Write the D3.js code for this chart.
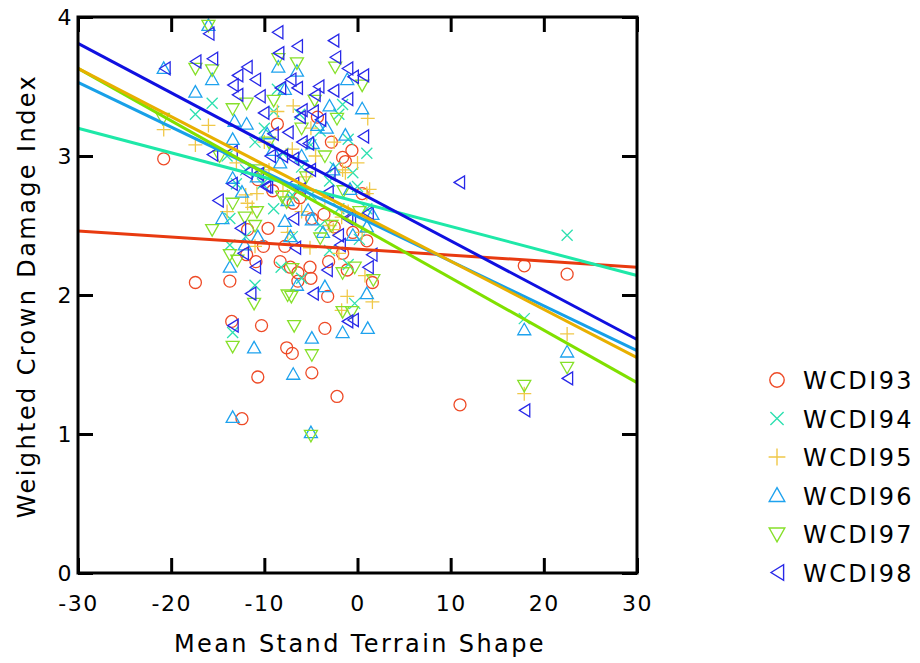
<!DOCTYPE html>
<html><head><meta charset="utf-8">
<script src="https://cdn.jsdelivr.net/npm/d3@7"></script>
<style>
html,body{margin:0;padding:0;background:#fff;}
svg{display:block;font-family:"DejaVu Sans",Verdana,sans-serif;}
</style></head>
<body>
<svg id="chart" width="920" height="663"></svg>
<script>
// ---------- data ----------
const seriesNames = ["WCDI93","WCDI94","WCDI95","WCDI96","WCDI97","WCDI98"];
const xTicks = [-30,-20,-10,0,10,20,30];
const yTicks = [0,1,2,3,4];

const wcdi93 = [[-20.8,2.98],[-17.4,2.09],[-13.7,2.10],[-13.5,1.81],[-10.3,1.78],[-12.4,1.11],[-10.7,1.41],[-7.6,1.62],[-7.0,1.58],[-4.9,1.44],[-2.2,1.27],[-3.5,1.76],[11.0,1.21],[17.9,2.21],[22.5,2.15],[1.6,2.09],[-8.6,3.23],[-4.3,3.28],[-2.8,3.10],[-0.6,3.04],[-1.6,2.99],[-1.3,2.96],[0.5,2.73],[-9.6,2.48],[-11.8,2.47],[-10.1,2.35],[-11.9,2.29],[-10.9,2.24],[-8.3,2.24],[-7.2,2.20],[-6.4,2.16],[-5.1,2.20],[-5.0,2.12],[-6.4,2.10],[-3.1,2.24],[-1.6,2.30],[-3.2,1.99],[-1.1,2.18],[1.0,2.39],[-7.8,2.35],[-2.5,2.49],[-0.5,2.45],[-3.6,2.58],[-6.9,2.66],[-9.1,2.75],[-4.9,2.55],[-10.7,2.83],[-6.2,2.70]];
const wcdi94 = [[-15.6,3.38],[-17.4,3.30],[-8.6,3.48],[1.0,3.02],[-0.5,2.88],[-13.7,2.55],[-13.7,2.36],[-11.0,2.07],[-13.4,1.73],[-0.3,1.94],[17.9,1.83],[22.5,2.43],[-1.6,3.37],[-12.0,2.90],[-10.2,2.80],[-8.0,3.02],[-6.0,2.92],[-5.0,2.72],[-4.0,3.18],[-3.0,2.82],[-2.0,2.62],[-1.0,3.12],[0.2,2.40],[-9.0,2.62],[-7.0,2.42],[-11.0,3.10],[-6.2,3.30],[-3.0,2.32],[-14.0,3.00],[-8.2,2.20],[-5.0,3.08],[1.0,2.62],[-2.0,3.30],[-4.0,2.50],[-13.0,2.80],[-10.0,3.20],[-7.0,2.72],[-1.0,2.22],[0.0,2.78],[-6.0,2.12],[-9.0,3.32],[-2.4,2.92],[-12.0,2.42]];
const wcdi95 = [[-20.8,3.19],[-17.4,3.08],[-16.0,3.22],[-8.6,3.32],[-6.9,3.36],[1.1,3.27],[-1.3,2.88],[1.3,2.76],[-10.8,2.73],[-11.8,2.66],[-1.6,2.90],[1.0,2.73],[-5.1,2.34],[-1.1,1.99],[1.6,1.95],[-1.7,1.89],[0.8,2.14],[17.9,1.29],[22.5,1.72],[-11.3,2.63],[-1.7,2.56],[-2.6,2.47],[-13.0,2.95],[-12.0,2.72],[-9.5,2.90],[-8.0,2.75],[-7.0,3.05],[-6.0,2.60],[-4.5,3.00],[-3.5,2.70],[-2.5,3.10],[-1.0,2.60],[0.0,2.95],[-10.0,3.10],[-5.5,2.85],[-3.0,2.50],[-14.0,2.60],[-7.5,2.45],[-2.0,2.30],[0.5,2.45],[-11.0,2.35],[-5.0,3.20]];
const wcdi96 = [[-20.8,3.63],[-16.0,3.94],[-15.6,3.55],[-17.4,3.46],[-8.5,3.64],[-6.5,3.61],[-1.1,3.55],[0.5,3.34],[-13.4,3.12],[-13.2,3.25],[-11.9,3.23],[-4.3,3.22],[-3.3,3.20],[-1.3,3.15],[-9.7,3.16],[-13.4,2.84],[-12.4,2.74],[-10.8,2.85],[-9.1,3.04],[-4.8,3.09],[-0.8,2.76],[1.0,2.49],[-7.2,2.42],[-3.7,2.45],[-10.7,2.42],[-12.1,2.36],[-7.8,2.53],[-7.5,2.68],[-5.3,2.61],[-4.9,2.54],[-0.5,2.43],[1.6,2.58],[1.0,2.01],[-3.5,2.06],[-6.5,2.07],[-13.7,2.20],[-1.6,1.73],[1.1,1.76],[-4.9,1.69],[-11.1,1.62],[-6.9,1.43],[-13.4,1.12],[-5.0,1.01],[17.9,1.75],[22.5,1.59],[-8.3,2.95],[-6.0,3.00],[-2.6,2.90],[-14.5,2.55],[-3.0,3.36],[-7.8,3.48]];
const wcdi97 = [[-16.0,3.94],[-17.4,3.63],[-20.9,3.27],[-8.5,3.70],[-6.5,3.67],[-2.4,3.64],[0.5,3.51],[-13.4,3.34],[-11.9,3.38],[-4.6,3.40],[-2.2,3.27],[-13.4,2.66],[-12.1,2.56],[-8.1,2.71],[-15.6,2.47],[-12.9,2.25],[-7.6,2.67],[-7.0,2.19],[-4.0,2.41],[-1.6,2.16],[-0.3,2.20],[1.7,2.11],[-7.5,2.00],[-13.7,2.29],[-11.1,1.94],[-7.1,1.99],[-1.6,1.88],[-0.6,1.88],[-6.8,1.78],[-13.4,1.63],[-4.9,1.57],[-5.0,0.99],[17.9,1.35],[22.5,1.48],[-10.5,2.90],[-9.5,3.10],[-5.5,2.85],[-3.5,3.00],[-1.5,2.75],[0.2,2.60],[-11.0,2.50],[-6.0,3.20],[-14.8,3.00],[-2.8,2.50],[-9.0,3.40],[-10.8,2.60],[-15.6,3.62]];
const wcdi98 = [[-16.0,3.88],[-20.7,3.63],[-17.4,3.68],[-15.6,3.70],[-8.6,3.89],[-6.5,3.79],[-2.6,3.83],[-8.5,3.74],[-2.4,3.71],[-11.9,3.64],[-12.9,3.58],[-13.4,3.51],[-11.0,3.55],[-10.5,3.43],[-12.9,3.44],[-8.3,3.49],[-6.5,3.49],[-7.2,3.55],[-4.2,3.50],[-4.6,3.44],[-2.6,3.47],[-1.1,3.63],[-0.5,3.57],[0.6,3.58],[-1.1,3.41],[-6.0,3.33],[-6.2,3.28],[-10.1,3.31],[-9.1,3.16],[-7.5,3.17],[-4.8,3.32],[-4.0,3.26],[0.6,3.14],[-15.6,3.01],[-13.5,3.03],[-11.9,2.88],[-10.7,2.87],[-9.4,3.00],[-8.1,3.00],[-6.9,2.98],[-6.0,3.10],[-5.3,3.09],[-3.0,2.87],[-15.0,2.68],[-13.5,2.80],[-9.7,2.78],[-6.9,2.80],[-6.2,2.76],[-5.1,2.90],[-1.1,2.55],[1.1,2.59],[-12.6,2.48],[-6.9,2.55],[-12.3,2.30],[-11.0,2.20],[-6.7,2.34],[-3.3,2.18],[-2.1,2.43],[-1.9,2.36],[-0.8,2.55],[1.1,2.20],[1.5,2.29],[-4.8,2.01],[-11.5,2.01],[-9.9,2.78],[-3.2,2.74],[-13.4,1.78],[-1.1,1.81],[-0.5,1.82],[10.9,2.81],[17.9,1.17],[22.5,1.40]];

// fitted lines: value at x=-30 and at x=30
const fitStart = [2.46, 3.20, 3.63, 3.53, 3.63, 3.81];
const fitEnd   = [2.20, 2.14, 1.55, 1.60, 1.37, 1.68];

// ---------- styling ----------
const markerColors = ["#ee4a26","#2ee0b0","#f0c848","#1ea2ee","#86e02a","#2828e8"];
const lineColors   = ["#e83a10","#1ee8a8","#e8b000","#18a0e8","#80e000","#1010e0"];
const shapes = ["circle","cross","plus","up","down","left"];
const allPoints = [wcdi93,wcdi94,wcdi95,wcdi96,wcdi97,wcdi98];

const svg = d3.select("#chart");
const x = d3.scaleLinear().domain([-30,30]).range([78,637]);
const y = d3.scaleLinear().domain([0,4]).range([573,17]);

function shapePath(s, k){
  k = k || 1;
  switch(s){
    case "circle": { const r=6*k; return `M${r},0A${r},${r} 0 1,1 ${-r},0A${r},${r} 0 1,1 ${r},0Z`; }
    case "cross": { const a=5.5*k; return `M${-a},${-a}L${a},${a}M${-a},${a}L${a},${-a}`; }
    case "plus": { const a=7*k; return `M${-a},0L${a},0M0,${-a}L0,${a}`; }
    case "up": { const w=6.5*k, t=6.5*k, b=5*k; return `M0,${-t}L${w},${b}L${-w},${b}Z`; }
    case "down": { const w=6.5*k, t=6.5*k, b=5*k; return `M0,${t}L${w},${-b}L${-w},${-b}Z`; }
    case "left": { const h=6.5*k, l=5*k, r=5.5*k; return `M${-l},0L${r},${-h}L${r},${h}Z`; }
  }
}

// points
allPoints.forEach((pts,i)=>{
  svg.append("g").selectAll("path").data(pts).join("path")
    .attr("transform", d=>`translate(${x(d[0])},${y(d[1])})`)
    .attr("d", shapePath(shapes[i]))
    .attr("fill","none")
    .attr("stroke", markerColors[i])
    .attr("stroke-width",1.3);
});

// fitted lines
const lineOrder = [0,1,3,4,2,5];
lineOrder.forEach(i=>{
  svg.append("line")
    .attr("x1", x(-30)).attr("y1", y(fitStart[i]))
    .attr("x2", x(30)).attr("y2", y(fitEnd[i]))
    .attr("stroke", lineColors[i]).attr("stroke-width",3);
});

// axes
const fmt = d => String(d);
const tickFont = g => g.selectAll("text")
  .style("font-family",'"DejaVu Sans",sans-serif')
  .style("font-size","22px").style("letter-spacing","1.5px").attr("fill","#000");
const styleAxis = g => { g.select(".domain").remove(); g.selectAll("line").attr("stroke","#000").attr("stroke-width",3); };

svg.append("g").attr("transform","translate(0,573)")
  .call(d3.axisBottom(x).tickValues(xTicks).tickFormat(fmt).tickSizeInner(-15).tickSizeOuter(0).tickPadding(22))
  .call(styleAxis).call(tickFont);
svg.append("g").attr("transform","translate(0,17)")
  .call(d3.axisTop(x).tickValues(xTicks).tickFormat("").tickSizeInner(-15).tickSizeOuter(0))
  .call(styleAxis);
svg.append("g").attr("transform","translate(78,0)")
  .call(d3.axisLeft(y).tickValues(yTicks).tickFormat(fmt).tickSizeInner(-15).tickSizeOuter(0).tickPadding(5))
  .call(styleAxis).call(tickFont);
svg.append("g").attr("transform","translate(637,0)")
  .call(d3.axisRight(y).tickValues(yTicks).tickFormat("").tickSizeInner(-15).tickSizeOuter(0))
  .call(styleAxis);

// frame
svg.append("rect").attr("x",78).attr("y",17).attr("width",559).attr("height",556)
  .attr("fill","none").attr("stroke","#000").attr("stroke-width",3);

// axis titles
svg.append("text").attr("x",360).attr("y",652).attr("text-anchor","middle")
  .style("font-size","24px").style("letter-spacing","2.4px").text("Mean Stand Terrain Shape");
svg.append("text").attr("transform","translate(35,296) rotate(-90)").attr("text-anchor","middle")
  .style("font-size","24px").style("letter-spacing","2.4px").text("Weighted Crown Damage Index");

// legend
const legendY = [380,418.5,457,495.5,534,572.5];
seriesNames.forEach((name,i)=>{
  const g = svg.append("g").attr("transform",`translate(777,${legendY[i]})`);
  g.append("path").attr("d",shapePath(shapes[i],1.2)).attr("fill","none")
    .attr("stroke",markerColors[i]).attr("stroke-width",1.4);
  g.append("text").attr("x",26).attr("y",9).style("font-size","24px")
    .style("letter-spacing","2.4px").text(name);
});
</script>
</body></html>
